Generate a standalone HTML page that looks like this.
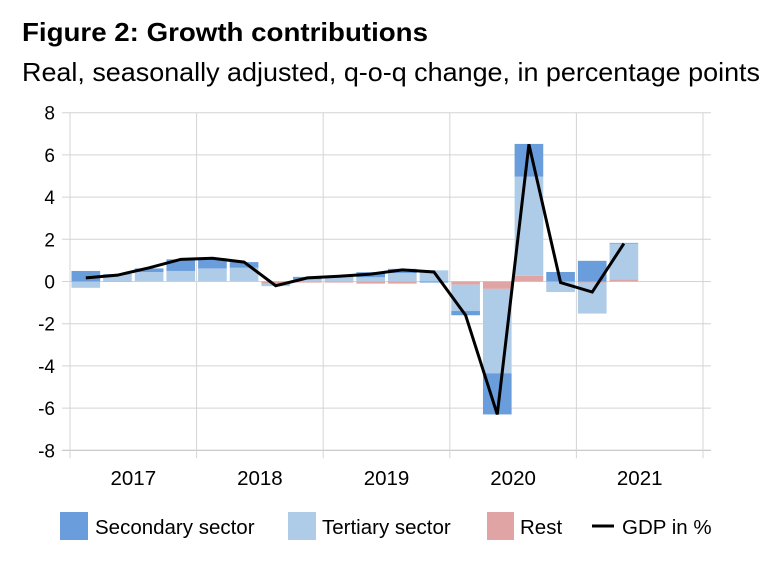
<!DOCTYPE html>
<html><head><meta charset="utf-8"><style>
body{margin:0;background:#fff;font-family:"Liberation Sans",Arial,sans-serif;}
#wrap{position:relative;width:774px;height:576px;overflow:hidden;}
</style></head><body>
<div id="wrap">
<svg id="chart" width="774" height="576" style="font-family:'Liberation Sans',Arial,sans-serif">
<text x="22" y="41" font-size="26" font-weight="bold" fill="#000" textLength="406" lengthAdjust="spacingAndGlyphs">Figure 2:  Growth contributions</text>
<text x="22" y="81" font-size="26" fill="#000" textLength="738" lengthAdjust="spacingAndGlyphs">Real, seasonally adjusted, q-o-q change, in percentage points</text>
<g id="grid"></g><g id="bars"></g><g id="line"></g><g id="axes"></g>
<g>
<rect x="60" y="512" width="28" height="28" fill="#6a9ddb"/>
<text x="95" y="534" font-size="20.5">Secondary sector</text>
<rect x="288" y="512" width="28" height="28" fill="#aecbe8"/>
<text x="322" y="534" font-size="20.5">Tertiary sector</text>
<rect x="487" y="512" width="27" height="28" fill="#e0a4a4"/>
<text x="520" y="534" font-size="20.5">Rest</text>
<line x1="592" y1="526" x2="614" y2="526" stroke="#000" stroke-width="3"/>
<text x="622" y="534" font-size="20.5">GDP in %</text>
</g>
</svg></div>
<script>
const years=["2017","2018","2019","2020","2021"];
const yTicks=[8,6,4,2,0,-2,-4,-6,-8];
const secondary=[0.5,0.02,0.17,0.55,0.48,0.27,0,0.12,0.05,0.24,0.2,-0.05,-0.2,-1.95,1.55,0.45,0.98,0.03];
const tertiary=[-0.3,0.33,0.45,0.5,0.62,0.65,-0.12,0.1,0.2,0.2,0.4,0.53,-1.25,-4.0,4.7,-0.5,-1.47,1.7];
const rest=[0,-0.02,0,0,0,0,-0.1,-0.05,-0.05,-0.1,-0.1,0,-0.15,-0.35,0.27,0,-0.05,0.1];
const gdp=[0.17,0.3,0.65,1.05,1.1,0.92,-0.2,0.17,0.25,0.35,0.55,0.45,-1.6,-6.3,6.5,-0.05,-0.5,1.8];
const NS="http://www.w3.org/2000/svg";
const X0=70,X1=703,Y0=281.5,PPU=21.1;
const slot=(X1-X0)/20;
const y=v=>Y0-v*PPU;
const xc=i=>X0+slot*(i+0.5);
function mk(tag,attrs,parent){const e=document.createElementNS(NS,tag);for(const k in attrs)e.setAttribute(k,attrs[k]);parent.appendChild(e);return e;}
const grid=document.getElementById('grid'),bars=document.getElementById('bars'),lineG=document.getElementById('line'),axes=document.getElementById('axes');
yTicks.forEach(t=>{
 const l=mk('line',{x1:X0-8,x2:X1+8,y1:y(t),y2:y(t),stroke:t===-8?'#bbb':'#d4d4d4','stroke-width':1},grid);
 
 
 const tx=mk('text',{x:55,y:y(t)+7,'font-size':19,'text-anchor':'end',fill:'#000'},axes);
 tx.textContent=t;
 
 
});
for(let k=0;k<=years.length;k++){
 const gx=X0+k*slot*4;
 const l=mk('line',{x1:gx,x2:gx,y1:y(8),y2:y(-8)+8,stroke:'#d4d4d4','stroke-width':1},grid);
 
 
 if(k<years.length){
  const tx=mk('text',{x:gx+slot*2,y:485,'font-size':20.5,'text-anchor':'middle',fill:'#000'},axes);
  tx.textContent=years[k];
  
  
 }
}
const series=[[rest,'#e0a4a4','rest'],[tertiary,'#aecbe8','tertiary'],[secondary,'#6a9ddb','secondary']];
gdp.forEach((g,i)=>{
 let pos=0,neg=0;
 series.forEach(([arr,col,nm])=>{
  const v=arr[i];if(v===0)return;
  let a,b;
  if(v>0){a=pos;b=pos+v;pos=b;}else{a=neg;b=neg+v;neg=b;}
  const r=mk('rect',{x:xc(i)-slot/2+1.5,width:slot-3,y:Math.min(y(a),y(b)),height:Math.abs(y(a)-y(b)),fill:col},bars);
  
  
 });
});
const p=mk('polyline',{points:gdp.map((g,i)=>xc(i)+','+y(g)).join(' '),fill:'none',stroke:'#000','stroke-width':3,'stroke-linejoin':'miter'},lineG);


</script>
</body></html>
